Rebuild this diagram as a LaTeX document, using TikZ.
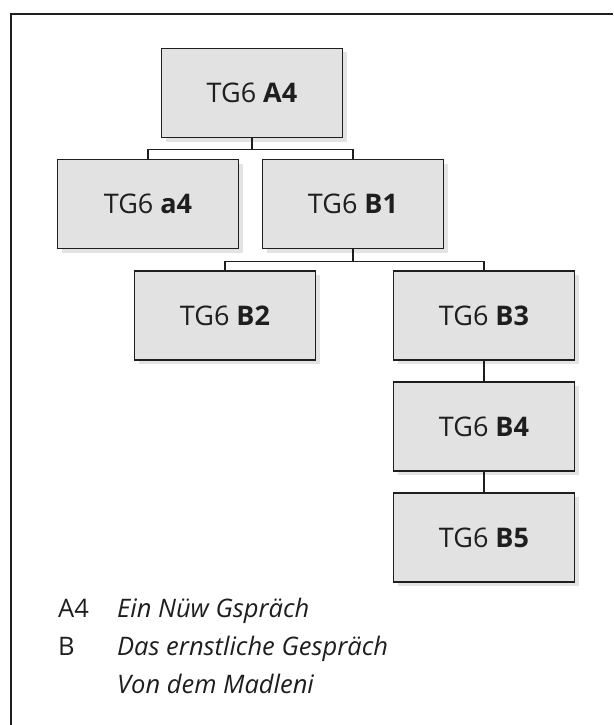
\documentclass[tikz,border=0pt]{standalone}
\usepackage{fontspec}
\setmainfont{Open Sans}
\usetikzlibrary{shadows}
\definecolor{boxfill}{HTML}{E2E2E2}
\definecolor{ink}{HTML}{1E1E1E}
\tikzset{
  tgbox/.style={draw=ink, line width=1.2pt, fill=boxfill, minimum width=181pt, minimum height=89pt,
    inner sep=0pt, font=\fontsize{27}{30}\selectfont, text=ink,
    drop shadow={opacity=0.22, shadow xshift=4pt, shadow yshift=-4pt}},
  conn/.style={draw=ink, line width=1.1pt},
  legend/.style={anchor=base west, inner sep=0pt, font=\fontsize{25.5}{28}\selectfont, text=ink}
}
\begin{document}
\begin{tikzpicture}[x=1pt,y=-1pt]
\useasboundingbox (0,0) rectangle (613,725);
\draw[ink, line width=1.2pt] (11,725) -- (11,14) -- (613,14);
\node[tgbox] (A4) at (252,93) {TG6 \textbf{A4}};
\node[tgbox] (a4) at (148,204) {TG6 \textbf{a4}};
\node[tgbox] (B1) at (353,204) {TG6 \textbf{B1}};
\node[tgbox] (B2) at (225,315.5) {TG6 \textbf{B2}};
\node[tgbox] (B3) at (484,315.5) {TG6 \textbf{B3}};
\node[tgbox] (B4) at (484,426.5) {TG6 \textbf{B4}};
\node[tgbox] (B5) at (484,537.5) {TG6 \textbf{B5}};
\draw[conn] (A4.south) -- ++(0,11) -| (a4.north);
\draw[conn] (A4.south) -- ++(0,11) -| (B1.north);
\draw[conn] (B1.south) -- ++(0,12) -| (B2.north);
\draw[conn] (B1.south) -- ++(0,12) -| (B3.north);
\draw[conn] (B3) -- (B4);
\draw[conn] (B4) -- (B5);
\node[legend] (k1) at (58,617) {A4};
\node[legend] (t1) at (117,617) {\itshape Ein Nüw Gspräch};
\node[legend] (k2) at (58,655) {B};
\node[legend] (t2) at (117,655) {\itshape Das ernstliche Gespräch};
\node[legend] (t3) at (117,693) {\itshape Von dem Madleni};
\end{tikzpicture}
\end{document}
